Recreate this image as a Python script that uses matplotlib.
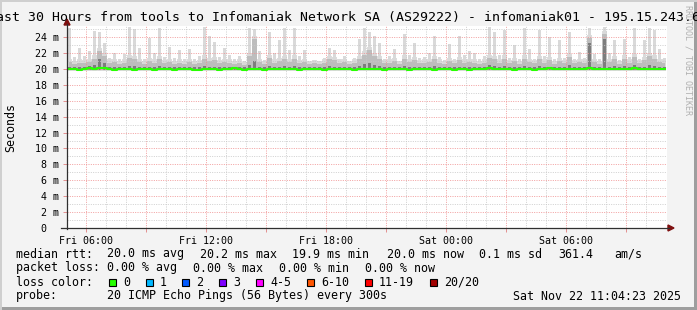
import numpy as np
import matplotlib.pyplot as plt
from matplotlib.lines import Line2D
from matplotlib.patches import Polygon, Rectangle

W, H = 697, 310

# time axis: 30 hours ending Sat 11:04, in hours since Fri 00:00
t_start = 5 + 4/60
t_step = 0.25

tick_hours = [6, 12, 18, 24, 30]
tick_labels = ["Fri 06:00", "Fri 12:00", "Fri 18:00", "Sat 00:00", "Sat 06:00"]

# values in ms, one per 15 min bin
median = [20.0, 20.0, 19.9, 20.0, 20.1, 20.0, 20.1, 20.1, 20.0, 19.9,
          20.0, 20.0, 20.0, 19.9, 20.0, 20.0, 20.0, 19.9, 20.0, 20.0,
          20.0, 19.9, 20.0, 20.0, 20.0, 19.9, 19.9, 20.0, 20.0, 20.0,
          19.9, 20.0, 20.0, 20.1, 20.0, 19.9, 20.0, 20.0, 20.0, 19.9,
          20.0, 20.0, 20.0, 20.0, 20.0, 20.0, 19.9, 20.0, 20.0, 20.0,
          20.0, 19.9, 20.0, 20.0, 20.0, 20.0, 20.0, 19.9, 20.0, 20.0,
          20.0, 20.0, 20.0, 19.9, 20.0, 20.0, 20.0, 20.0, 19.9, 20.0,
          20.0, 20.0, 20.0, 19.9, 20.0, 20.0, 20.0, 19.9, 20.0, 20.0,
          19.9, 20.0, 20.0, 20.0, 20.1, 20.0, 20.0, 20.0, 20.0, 19.9,
          20.0, 20.0, 20.0, 19.9, 20.0, 20.0, 20.1, 20.0, 20.0, 20.0,
          20.0, 20.0, 20.0, 20.0, 20.1, 20.0, 20.0, 20.0, 20.0, 20.0,
          20.0, 20.0, 20.0, 20.1, 20.0, 20.0, 20.0, 20.0, 20.0, 20.0]

smoke_max = [25.2, 21.5, 22.6, 21.6, 22.2, 24.8, 24.6, 23.2, 21.4, 22.0,
             21.2, 21.9, 25.3, 25.0, 22.6, 21.3, 23.9, 22.0, 25.2, 21.5,
             22.7, 21.4, 22.4, 21.2, 22.5, 21.3, 21.6, 25.3, 24.1, 23.4,
             21.5, 22.6, 21.8, 21.2, 21.6, 21.0, 25.2, 25.0, 22.2, 21.1,
             24.6, 22.0, 23.6, 25.2, 22.4, 25.2, 21.6, 22.4, 20.9, 21.1,
             21.0, 21.4, 22.6, 22.4, 21.3, 21.6, 20.9, 21.4, 23.8, 25.2,
             24.7, 24.1, 23.2, 21.2, 21.6, 22.5, 21.0, 24.4, 21.8, 23.3,
             21.4, 21.5, 22.0, 24.1, 21.5, 21.1, 23.1, 21.3, 24.1, 21.8,
             22.2, 22.0, 21.2, 21.6, 25.3, 24.6, 21.7, 24.9, 21.4, 23.0,
             21.3, 25.2, 22.5, 21.3, 24.9, 21.6, 24.0, 21.2, 23.6, 21.4,
             24.7, 21.3, 22.1, 21.4, 25.2, 21.9, 21.2, 25.3, 22.0, 23.6,
             21.1, 23.8, 21.5, 25.2, 21.3, 23.6, 25.2, 24.9, 22.5, 21.4]

smoke_mid = [20.9, 20.6, 20.8, 20.7, 20.9, 21.3, 22.2, 21.6, 20.8, 20.9,
             20.6, 20.8, 21.4, 21.2, 20.9, 20.6, 21.0, 20.8, 21.2, 20.7,
             20.9, 20.6, 20.8, 20.6, 20.9, 20.6, 20.7, 21.3, 21.0, 21.1,
             20.7, 20.9, 20.8, 20.6, 20.8, 20.5, 21.6, 23.8, 20.9, 20.6,
             21.4, 20.8, 21.0, 21.2, 20.9, 21.3, 20.7, 20.9, 20.6, 20.7,
             20.6, 20.8, 21.2, 21.1, 20.8, 20.9, 20.6, 20.8, 21.2, 21.8,
             22.4, 21.6, 21.2, 20.7, 20.8, 21.0, 20.6, 21.3, 20.9, 21.1,
             20.7, 20.8, 20.9, 21.2, 20.8, 20.6, 21.0, 20.7, 21.1, 20.8,
             20.9, 20.8, 20.6, 20.8, 21.4, 21.2, 20.8, 21.3, 20.7, 21.0,
             20.6, 21.3, 20.9, 20.7, 21.2, 20.8, 21.1, 20.6, 21.0, 20.7,
             21.5, 20.7, 20.9, 20.8, 23.9, 20.9, 20.6, 24.4, 20.9, 21.2,
             20.6, 21.3, 20.8, 21.5, 20.7, 21.1, 21.6, 21.3, 20.9, 20.8]

smoke_dark = [20.3, 20.2, 20.3, 20.2, 20.4, 20.5, 21.3, 20.8, 20.3, 20.3,
              20.2, 20.3, 20.4, 20.4, 20.3, 20.2, 20.3, 20.2, 20.4, 20.2,
              20.3, 20.2, 20.3, 20.2, 20.3, 20.2, 20.2, 20.4, 20.3, 20.3,
              20.2, 20.3, 20.3, 20.2, 20.2, 20.2, 20.5, 21.0, 20.3, 20.2,
              20.4, 20.3, 20.3, 20.4, 20.3, 20.4, 20.2, 20.3, 20.2, 20.2,
              20.2, 20.3, 20.4, 20.3, 20.3, 20.3, 20.2, 20.2, 20.4, 20.6,
              20.8, 20.5, 20.4, 20.2, 20.3, 20.3, 20.2, 20.4, 20.3, 20.3,
              20.2, 20.3, 20.3, 20.4, 20.3, 20.2, 20.3, 20.2, 20.3, 20.3,
              20.3, 20.3, 20.2, 20.3, 20.5, 20.4, 20.3, 20.4, 20.2, 20.3,
              20.2, 20.4, 20.3, 20.2, 20.4, 20.3, 20.3, 20.2, 20.3, 20.2,
              20.5, 20.2, 20.3, 20.3, 23.2, 20.3, 20.2, 23.8, 20.3, 20.4,
              20.2, 20.4, 20.3, 20.5, 20.2, 20.3, 20.5, 20.4, 20.3, 20.3]
smoke_floor = 19.8

loss_labels = ["0", "1", "2", "3", "4-5", "6-10", "11-19", "20/20"]
loss_colors = ["#26ff00", "#00b8ff", "#0059ff", "#7e00ff", "#ff00ff", "#ff5500", "#ff0000", "#a10000"]

mono = "DejaVu Sans Mono"

def fx(x):
    return x / W

def fy(y):
    return 1 - y / H

fig = plt.figure(figsize=(W/100, H/100), dpi=100)
fig.patch.set_facecolor("#f3f3f3")

ax = fig.add_axes([fx(67), fy(228), 600/W, (228-26)/H])
ax.set_facecolor("white")
ax.set_xlim(t_start, t_start + 30)
ax.set_ylim(0, 25.4)

hrs = t_start + t_step/2 + t_step*np.arange(len(median))
mid = np.array(smoke_mid)
top = np.array(smoke_max)
# light smoke: a continuous low haze plus narrow spikes up to the max ping
ax.fill_between(hrs, smoke_floor, mid + 0.4, step="mid", color="#dcdcdc", lw=0, zorder=1)
ax.bar(hrs, top - smoke_floor, bottom=smoke_floor, width=t_step*0.6, color="#d9d9d9", lw=0, zorder=1)
ax.fill_between(hrs, smoke_floor + 0.05, mid, step="mid", color="#bdbdbd", lw=0, zorder=1.1)
ax.bar(hrs, np.array(smoke_dark) - smoke_floor - 0.1, bottom=smoke_floor + 0.1, width=t_step*0.5,
       color="#7d7d7d", lw=0, zorder=1.2)
ax.plot(hrs, median, drawstyle="steps-mid", color=loss_colors[0], lw=1.5, zorder=3)

# grid: dotted, red for major, grey for minor
dots = (0, (1.2, 1.6))
for h in range(6, 35):
    col = "#f09090" if h % 3 == 0 else "#c8c8c8"
    ax.axvline(h, color=col, lw=0.6, ls=dots, zorder=2.5)
for v in range(1, 26):
    col = "#f09090" if v % 2 == 0 else "#c8c8c8"
    ax.axhline(v, color=col, lw=0.6, ls=dots, zorder=2.5)

for s in ax.spines.values():
    s.set_visible(False)

ax.set_yticks(range(0, 25, 2))
ax.set_yticklabels(["0  "] + ["%d m" % v for v in range(2, 25, 2)])
ax.set_xticks(range(6, 35, 3))
ax.set_xticklabels([tick_labels[tick_hours.index(h)] if h in tick_hours else "" for h in range(6, 35, 3)])
ax.tick_params(axis="both", length=3, width=0.6, color="#e08080", labelsize=7.2, pad=2.5)
ax.tick_params(axis="x", pad=3)
for lab in ax.get_xticklabels() + ax.get_yticklabels():
    lab.set_family(mono)

# axes with arrows
fig.add_artist(Line2D([fx(67), fx(67)], [fy(229), fy(24)], color="#303030", lw=0.9))
fig.add_artist(Line2D([fx(61), fx(669)], [fy(228), fy(228)], color="#303030", lw=0.9))
fig.add_artist(Polygon([(fx(64), fy(25)), (fx(70), fy(25)), (fx(67), fy(19))], closed=True,
                       color="#7f1010", transform=fig.transFigure))
fig.add_artist(Polygon([(fx(668), fy(225)), (fx(668), fy(231)), (fx(674), fy(228))], closed=True,
                       color="#7f1010", transform=fig.transFigure))

title = "Last 30 Hours from tools to Infomaniak Network SA (AS29222) - infomaniak01 - 195.15.243.69"
fig.text(0.5, fy(18), title, ha="center", va="center", family=mono, size=9.5)
fig.text(fx(11), fy(127), "Seconds", rotation=90, ha="center", va="center", family=mono, size=8.4)
fig.text(fx(688), fy(60), "RRDTOOL / TOBI OETIKER", rotation=270, ha="center", va="center",
         family=mono, size=6, color="#b0b0b0")

ls = 8.4
fig.text(fx(16), fy(254), "median rtt:", va="center", family=mono, size=ls)
for x, s in [(107, "20.0 ms avg"), (200, "20.2 ms max"), (292, "19.9 ms min"),
             (387, "20.0 ms now"), (479, "0.1 ms sd"), (558, "361.4"), (614, "am/s")]:
    fig.text(fx(x), fy(254), s, va="center", family=mono, size=ls)
fig.text(fx(16), fy(268), "packet loss:", va="center", family=mono, size=ls)
for x, s in [(107, "0.00 % avg"), (193, "0.00 % max"), (279, "0.00 % min"), (365, "0.00 % now")]:
    fig.text(fx(x), fy(268), s, va="center", family=mono, size=ls)
fig.text(fx(16), fy(282), "loss color:", va="center", family=mono, size=ls)
box_x = [109, 146, 182, 219, 256, 307, 365, 430]
for bx, lab, col in zip(box_x, loss_labels, loss_colors):
    fig.add_artist(Rectangle((fx(bx), fy(286)), 7/W, 7/H, facecolor=col, edgecolor="black",
                             lw=0.8, transform=fig.transFigure))
    fig.text(fx(bx + 14), fy(282), lab, va="center", family=mono, size=ls)
fig.text(fx(16), fy(296), "probe:", va="center", family=mono, size=ls)
fig.text(fx(107), fy(296), "20 ICMP Echo Pings (56 Bytes) every 300s", va="center", family=mono, size=ls)
fig.text(fx(513), fy(296), "Sat Nov 22 11:04:23 2025", va="center", family=mono, size=ls)

# canvas border shading
fig.add_artist(Rectangle((fx(694), 0), 3/W, 1, color="#9e9e9e", transform=fig.transFigure, lw=0))
fig.add_artist(Rectangle((0, 0), 1, 3/H, color="#9e9e9e", transform=fig.transFigure, lw=0))
fig.add_artist(Rectangle((0, 0), 2/W, 1, color="#cfcfcf", transform=fig.transFigure, lw=0))
fig.add_artist(Rectangle((0, fy(2)), 1, 2/H, color="#cfcfcf", transform=fig.transFigure, lw=0))

fig.savefig("out.png", dpi=100, facecolor=fig.get_facecolor())
